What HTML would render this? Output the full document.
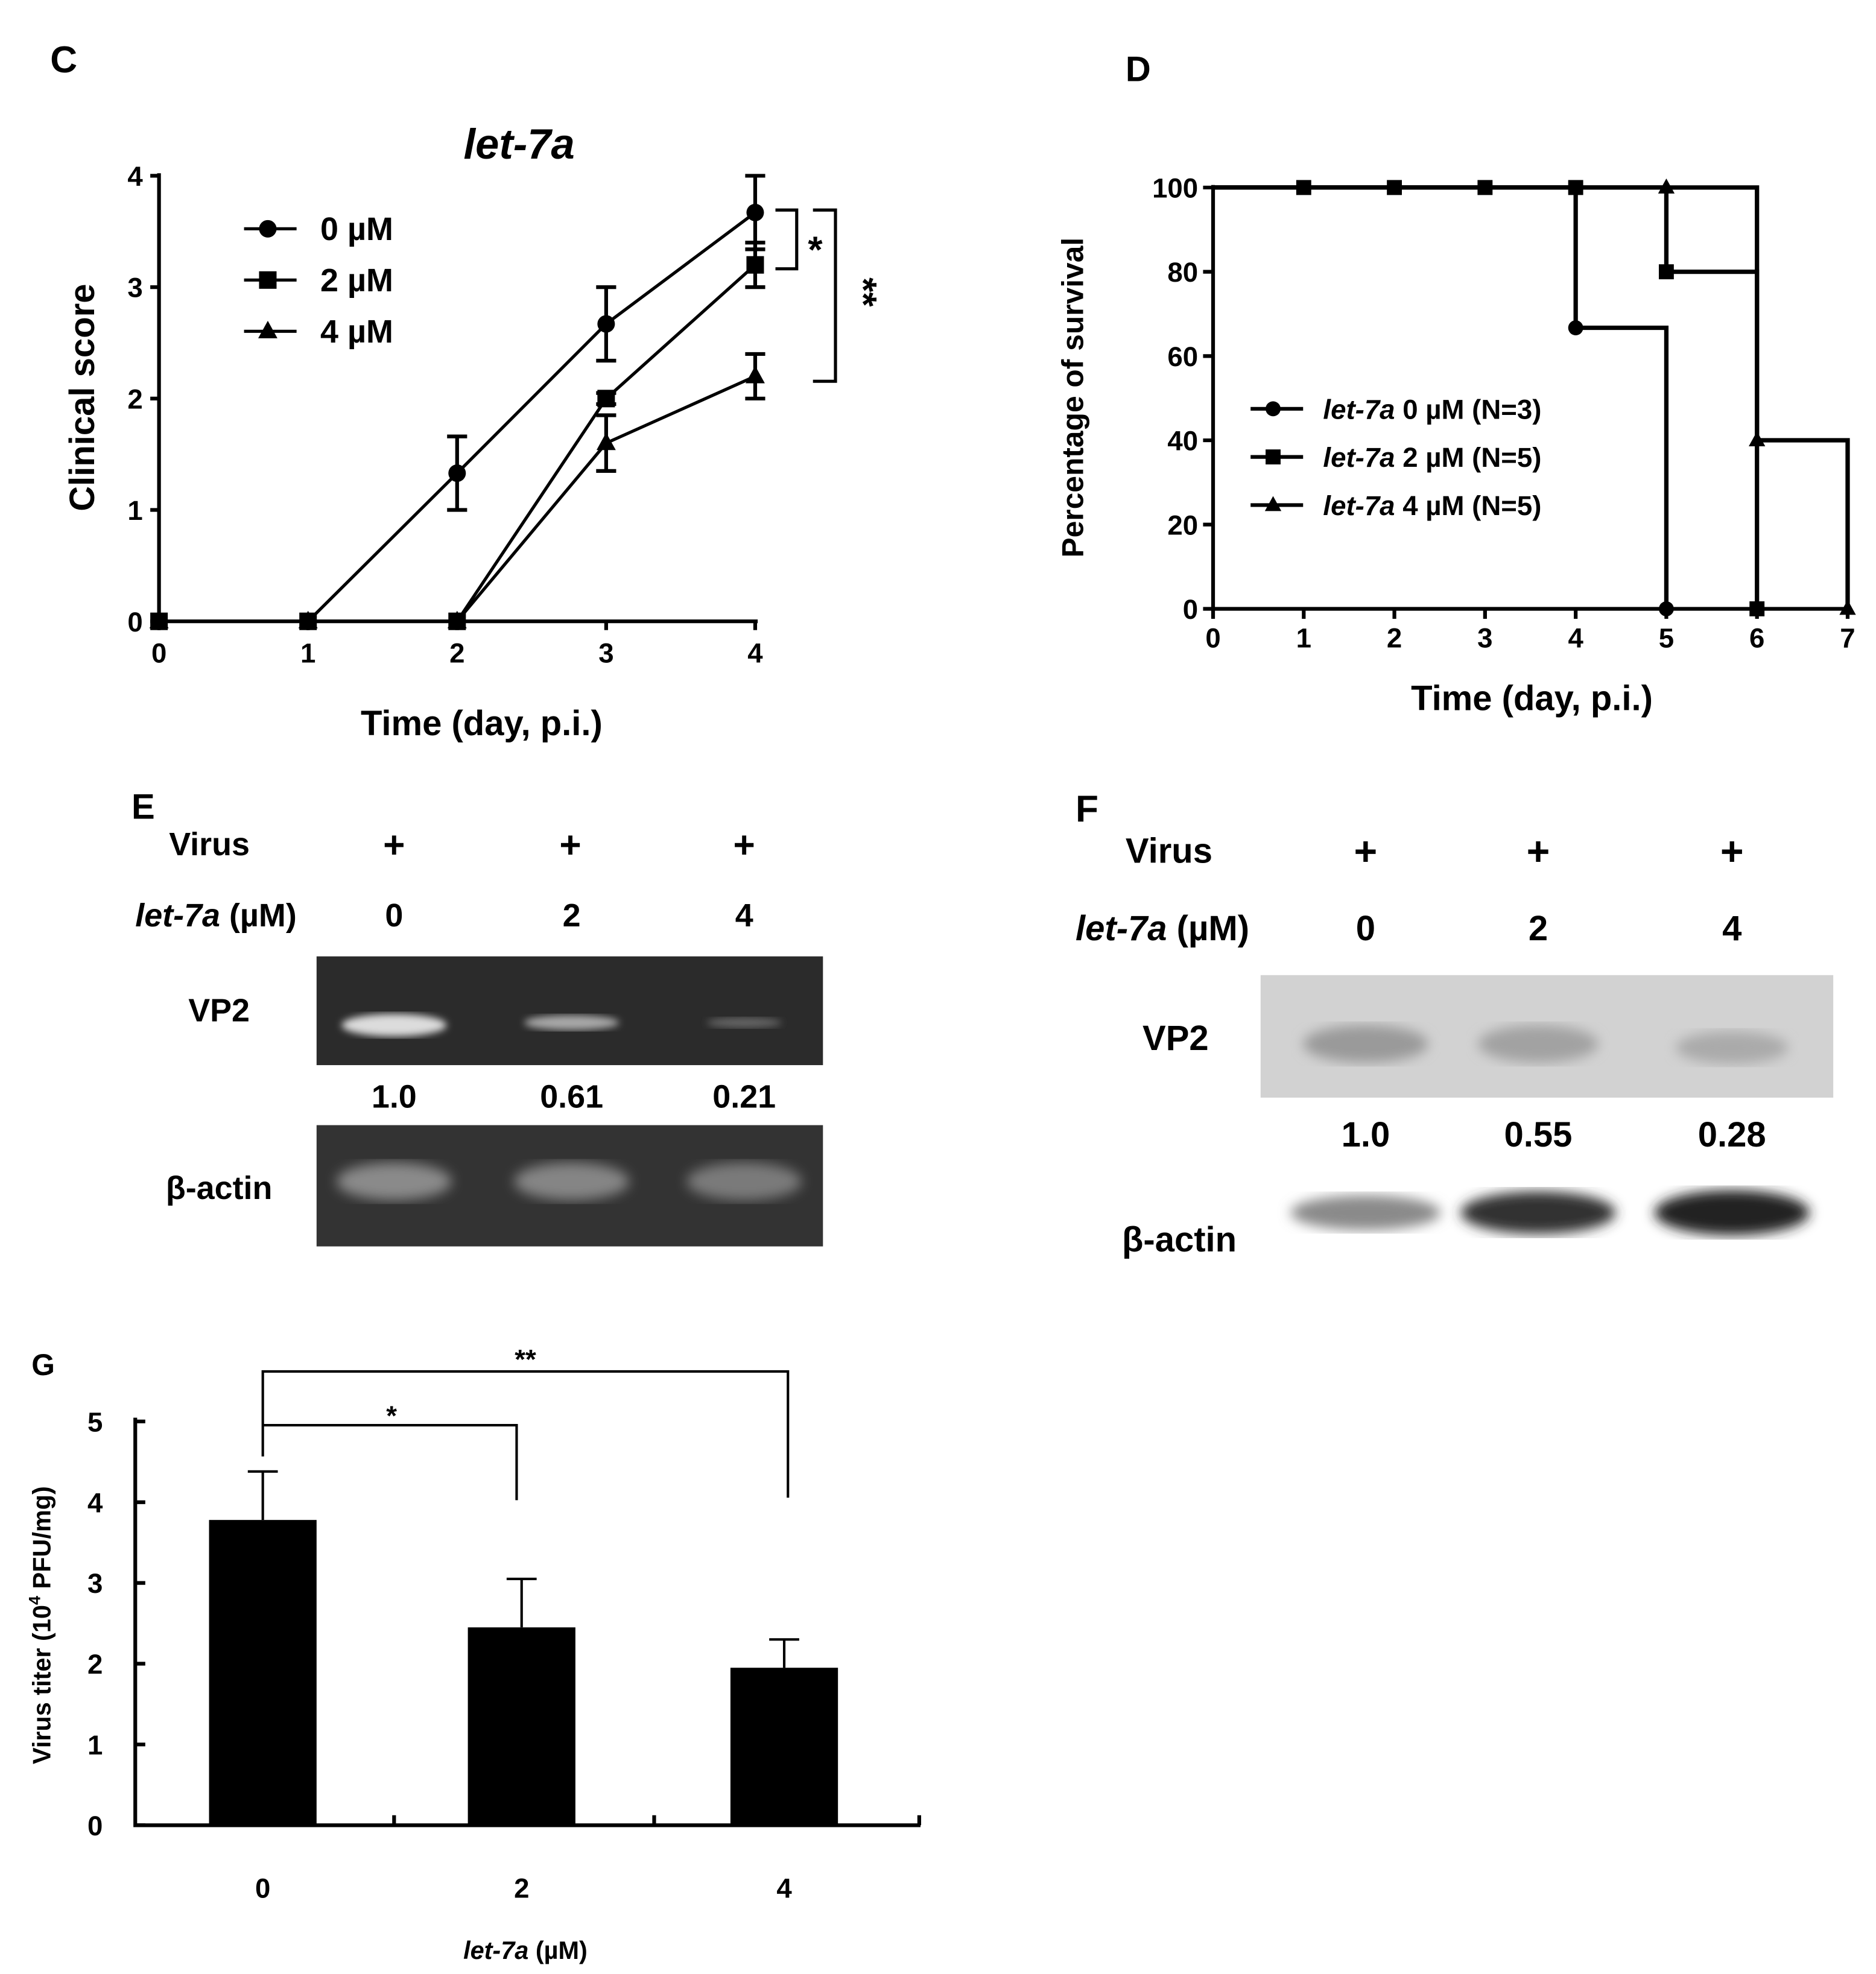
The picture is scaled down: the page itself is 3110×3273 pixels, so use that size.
<!DOCTYPE html>
<html><head><meta charset="utf-8"><style>
html,body{margin:0;padding:0;background:#fff}
svg{display:block}
text{font-family:"Liberation Sans",Arial,sans-serif;font-weight:bold;fill:#000}
</style></head><body>
<svg id="fig" width="3110" height="3273" viewBox="0 0 1500 1579" xmlns="http://www.w3.org/2000/svg">
<defs>
<filter id="blur4"><feGaussianBlur stdDeviation="5"/></filter>
<filter id="blur2"><feGaussianBlur stdDeviation="3"/></filter>
</defs>
<g id="panelC"></g>
<g id="panelD"></g>
<g id="panelE">
  <text x="105" y="655" font-size="28">E</text>
  <text x="135" y="684" font-size="26">Virus</text>
  <text x="315" y="686" font-size="30" text-anchor="middle">+</text>
  <text x="456" y="686" font-size="30" text-anchor="middle">+</text>
  <text x="595" y="686" font-size="30" text-anchor="middle">+</text>
  <text x="108" y="741" font-size="26"><tspan font-style="italic">let-7a</tspan> (µM)</text>
  <text x="315" y="741" font-size="26" text-anchor="middle">0</text>
  <text x="457" y="741" font-size="26" text-anchor="middle">2</text>
  <text x="595" y="741" font-size="26" text-anchor="middle">4</text>
  <rect x="253" y="765" width="405" height="87" fill="#2b2b2b"/>
  <ellipse cx="315" cy="820" rx="42" ry="9" fill="#dcdcdc" filter="url(#blur2)"/>
  <ellipse cx="457" cy="818" rx="38" ry="6" fill="#a8a8a8" filter="url(#blur2)"/>
  <ellipse cx="595" cy="818" rx="30" ry="4" fill="#666" filter="url(#blur2)"/>
  <text x="175" y="817" font-size="26" text-anchor="middle">VP2</text>
  <text x="315" y="886" font-size="26" text-anchor="middle">1.0</text>
  <text x="457" y="886" font-size="26" text-anchor="middle">0.61</text>
  <text x="595" y="886" font-size="26" text-anchor="middle">0.21</text>
  <rect x="253" y="900" width="405" height="97" fill="#333"/>
  <ellipse cx="315" cy="945" rx="46" ry="15" fill="#8a8a8a" filter="url(#blur4)"/>
  <ellipse cx="457" cy="945" rx="46" ry="15" fill="#858585" filter="url(#blur4)"/>
  <ellipse cx="595" cy="945" rx="46" ry="15" fill="#7a7a7a" filter="url(#blur4)"/>
  <text x="175" y="959" font-size="26" text-anchor="middle">β-actin</text>
</g>
<g id="panelF">
  <text x="860" y="657" font-size="30">F</text>
  <text x="900" y="690" font-size="28">Virus</text>
  <text x="1092" y="692" font-size="32" text-anchor="middle">+</text>
  <text x="1230" y="692" font-size="32" text-anchor="middle">+</text>
  <text x="1385" y="692" font-size="32" text-anchor="middle">+</text>
  <text x="860" y="752" font-size="28"><tspan font-style="italic">let-7a</tspan> (µM)</text>
  <text x="1092" y="752" font-size="28" text-anchor="middle">0</text>
  <text x="1230" y="752" font-size="28" text-anchor="middle">2</text>
  <text x="1385" y="752" font-size="28" text-anchor="middle">4</text>
  <rect x="1008" y="780" width="458" height="98" fill="#d2d2d2"/>
  <ellipse cx="1092" cy="835" rx="50" ry="15" fill="#9a9a9a" filter="url(#blur4)"/>
  <ellipse cx="1230" cy="835" rx="48" ry="15" fill="#a2a2a2" filter="url(#blur4)"/>
  <ellipse cx="1385" cy="838" rx="45" ry="13" fill="#aaa" filter="url(#blur4)"/>
  <text x="940" y="840" font-size="28" text-anchor="middle">VP2</text>
  <text x="1092" y="917" font-size="28" text-anchor="middle">1.0</text>
  <text x="1230" y="917" font-size="28" text-anchor="middle">0.55</text>
  <text x="1385" y="917" font-size="28" text-anchor="middle">0.28</text>
  <ellipse cx="1092" cy="970" rx="60" ry="14" fill="#8a8a8a" filter="url(#blur4)"/>
  <ellipse cx="1230" cy="970" rx="62" ry="17" fill="#333" filter="url(#blur4)"/>
  <ellipse cx="1385" cy="970" rx="62" ry="18" fill="#222" filter="url(#blur4)"/>
  <text x="943" y="1001" font-size="28" text-anchor="middle">β-actin</text>
</g>
<g id="panelG"></g>
</svg>
<script>
const NS="http://www.w3.org/2000/svg";
function mk(parent,tag,attrs,txt){const e=document.createElementNS(NS,tag);for(const k in attrs)e.setAttribute(k,attrs[k]);if(txt!==undefined)e.textContent=txt;parent.appendChild(e);return e;}

// ---------- Panel C data ----------
const cDays=[0,1,2,3,4];
const cYTicks=[0,1,2,3,4];
const c0=[0,0,1.33,2.67,3.67];
const c0err=[0,0,0.33,0.33,0.33];
const c2=[0,0,0,2,3.2];
const c2err=[0,0,0,0.05,0.2];
const c4=[0,0,0,1.6,2.2];
const c4err=[0,0,0,0.25,0.2];
const cLegend=["0 µM","2 µM","4 µM"];

// ---------- Panel D data ----------
const dDays=[0,1,2,3,4,5,6,7];
const dYTicks=[0,20,40,60,80,100];
const d0t=[0,4,4,5,5];const d0v=[100,100,66.7,66.7,0];
const d2t=[0,5,5,6,6];const d2v=[100,100,80,80,0];
const d4t=[0,6,6,7,7];const d4v=[100,100,40,40,0];
const d0mt=[4,5];const d0mv=[66.7,0];
const d2mt=[1,2,3,4,5,6];const d2mv=[100,100,100,100,80,0];
const d4mt=[5,6,7];const d4mv=[100,40,0];
const dLegend=["0 µM (N=3)","2 µM (N=5)","4 µM (N=5)"];

// ---------- Panel G data ----------
const gCats=["0","2","4"];
const gVals=[3.78,2.45,1.95];
const gErr=[0.6,0.6,0.35];
const gYTicks=[0,1,2,3,4,5];

function marker(g,shape,x,y,s,name){
  let el;
  if(shape==="circle") el=mk(g,"circle",{cx:x,cy:y,r:s});
  else if(shape==="square") el=mk(g,"rect",{x:x-s,y:y-s,width:2*s,height:2*s});
  else el=mk(g,"polygon",{points:`${x},${y-s*1.2} ${x-s*1.1},${y+s*0.8} ${x+s*1.1},${y+s*0.8}`});
  el.setAttribute("fill","#000");
  
  
}

// ---------- Panel C ----------
(function(){
  const g=document.getElementById("panelC");
  const x=d=>127+d*119.2, y=v=>497-v*89.1;
  const t=mk(g,"text",{x:40,y:58,"font-size":30});t.textContent="C";
  
  const ti=mk(g,"text",{x:415,y:127,"font-size":34,"font-style":"italic","text-anchor":"middle"},"let-7a");
  
  const ax=mk(g,"path",{d:`M${x(0)},${y(4)-2}V${y(0)}H${x(4)+2}`,stroke:"#000","stroke-width":3,fill:"none"});
  
  cYTicks.forEach(v=>{
    mk(g,"line",{x1:x(0)-7,x2:x(0),y1:y(v),y2:y(v),stroke:"#000","stroke-width":3});
    const l=mk(g,"text",{x:x(0)-13,y:y(v)+8,"font-size":22,"font-weight":"normal","text-anchor":"end"},v);
    
  });
  cDays.forEach(d=>{
    mk(g,"line",{x1:x(d),x2:x(d),y1:y(0),y2:y(0)+7,stroke:"#000","stroke-width":3});
    const l=mk(g,"text",{x:x(d),y:y(0)+33,"font-size":22,"font-weight":"normal","text-anchor":"middle"},d);
    
  });
  const xt=mk(g,"text",{x:385,y:588,"font-size":28,"text-anchor":"middle"},"Time (day,  p.i.)");
  
  const yt=mk(g,"text",{x:0,y:0,"font-size":28,"font-weight":"normal","text-anchor":"middle",transform:"translate(75,318) rotate(-90)"},"Clinical score");
  
  const series=[[c0,c0err,"circle"],[c2,c2err,"square"],[c4,c4err,"triangle"]];
  series.forEach((s,i)=>{
    const sg=mk(g,"g",{});
    
    mk(sg,"polyline",{points:cDays.map((d,j)=>x(d)+","+y(s[0][j])).join(" "),fill:"none",stroke:"#000","stroke-width":2.5});
    cDays.forEach((d,j)=>{
      if(s[1][j]>0){
        const e=s[1][j];
        mk(sg,"path",{d:`M${x(d)},${y(s[0][j]-e)}V${y(s[0][j]+e)}M${x(d)-8},${y(s[0][j]-e)}H${x(d)+8}M${x(d)-8},${y(s[0][j]+e)}H${x(d)+8}`,stroke:"#000","stroke-width":3,fill:"none"});
      }
      marker(sg,s[2],x(d),y(s[0][j]),7,"point");
    });
    const ly=183+i*41;
    mk(sg,"line",{x1:195,x2:237,y1:ly,y2:ly,stroke:"#000","stroke-width":2.5});
    marker(sg,s[2],214,ly,7,"legend-marker");
    const lt=mk(sg,"text",{x:256,y:ly+9,"font-size":26},cLegend[i]);
    
  });
  const br=mk(g,"path",{d:"M620,168H637V215H620M650,168H668V305H650",fill:"none",stroke:"#000","stroke-width":2.5});
  
  const s1=mk(g,"text",{x:646,y:210,"font-size":30},"*");
  
  const s2=mk(g,"text",{x:0,y:0,"font-size":30,transform:"translate(680,222) rotate(90)"},"**");
  
})();

// ---------- Panel D ----------
(function(){
  const g=document.getElementById("panelD");
  const x=d=>970+d*72.5, y=v=>487-v*3.37;
  const t=mk(g,"text",{x:900,y:65,"font-size":28},"D");
  
  const ax=mk(g,"path",{d:`M${x(0)},${y(100)-2}V${y(0)}H${x(7)+2}`,stroke:"#000","stroke-width":3,fill:"none"});
  
  dYTicks.forEach(v=>{
    mk(g,"line",{x1:x(0)-8,x2:x(0),y1:y(v),y2:y(v),stroke:"#000","stroke-width":3});
    const l=mk(g,"text",{x:x(0)-12,y:y(v)+8,"font-size":22,"font-weight":"normal","text-anchor":"end"},v);
    
  });
  dDays.forEach(d=>{
    mk(g,"line",{x1:x(d),x2:x(d),y1:y(0),y2:y(0)+8,stroke:"#000","stroke-width":3});
    const l=mk(g,"text",{x:x(d),y:y(0)+31,"font-size":22,"font-weight":"normal","text-anchor":"middle"},d);
    
  });
  const xt=mk(g,"text",{x:1225,y:568,"font-size":28,"text-anchor":"middle"},"Time (day, p.i.)");
  
  const yt=mk(g,"text",{x:0,y:0,"font-size":24,"font-weight":"normal","text-anchor":"middle",transform:"translate(866,318) rotate(-90)"},"Percentage of survival");
  
  const series=[[d0t,d0v,"circle",d0mt,d0mv],[d2t,d2v,"square",d2mt,d2mv],[d4t,d4v,"triangle",d4mt,d4mv]];
  series.forEach((s,i)=>{
    const sg=mk(g,"g",{});
    
    mk(sg,"polyline",{points:s[0].map((d,j)=>x(d)+","+y(s[1][j])).join(" "),fill:"none",stroke:"#000","stroke-width":3.5});
    s[3].forEach((d,j)=>marker(sg,s[2],x(d),y(s[4][j]),6,"point"));
    const ly=327+i*38.5;
    mk(sg,"line",{x1:1000,x2:1042,y1:ly,y2:ly,stroke:"#000","stroke-width":3});
    marker(sg,s[2],1018,ly,6,"legend-marker");
    const lt=mk(sg,"text",{x:1058,y:ly+8,"font-size":22});
    lt.innerHTML='<tspan font-style="italic">let-7a</tspan> '+dLegend[i];
    
  });
})();

// ---------- Panel G ----------
(function(){
  const g=document.getElementById("panelG");
  const y=v=>1460-v*64.6;
  const cx=[210,417,627];
  const t=mk(g,"text",{x:25,y:1100,"font-size":24},"G");
  
  const ax=mk(g,"path",{d:`M108,${y(5)-3}V1460H736`,stroke:"#000","stroke-width":3,fill:"none"});
  
  gYTicks.forEach(v=>{
    mk(g,"line",{x1:108,x2:116,y1:y(v),y2:y(v),stroke:"#000","stroke-width":3});
    const l=mk(g,"text",{x:82,y:y(v)+8,"font-size":22,"text-anchor":"end"},v);
    
  });
  [315,523,735].forEach(tx=>mk(g,"line",{x1:tx,x2:tx,y1:1460,y2:1452,stroke:"#000","stroke-width":3}));
  gCats.forEach((c,i)=>{
    const b=mk(g,"rect",{x:cx[i]-43,y:y(gVals[i]),width:86,height:1460-y(gVals[i]),fill:"#000"});
    
    const e=mk(g,"path",{d:`M${cx[i]},${y(gVals[i])}V${y(gVals[i]+gErr[i])}M${cx[i]-12},${y(gVals[i]+gErr[i])}H${cx[i]+12}`,stroke:"#000","stroke-width":2,fill:"none"});
    
    const l=mk(g,"text",{x:cx[i],y:1518,"font-size":22,"text-anchor":"middle"},c);
    
  });
  const xt=mk(g,"text",{x:420,y:1567,"font-size":20,"font-weight":"normal","text-anchor":"middle"});
  xt.innerHTML='<tspan font-style="italic">let-7a</tspan> (µM)';
  
  const yt=mk(g,"text",{x:0,y:0,"font-size":20,"font-weight":"normal","text-anchor":"middle",transform:"translate(40,1300) rotate(-90)"});
  yt.innerHTML='Virus titer (10<tspan font-size="13" dy="-8">4</tspan><tspan dy="8"> PFU/mg)</tspan>';
  
  const br=mk(g,"path",{d:"M210,1165V1097H630V1198M210,1140H413V1200",fill:"none",stroke:"#000","stroke-width":2});
  
  const s1=mk(g,"text",{x:313,y:1140,"font-size":22,"font-weight":"normal","text-anchor":"middle"},"*");
  
  const s2=mk(g,"text",{x:420,y:1095,"font-size":22,"font-weight":"normal","text-anchor":"middle"},"**");
  
})();
</script>
</body></html>
